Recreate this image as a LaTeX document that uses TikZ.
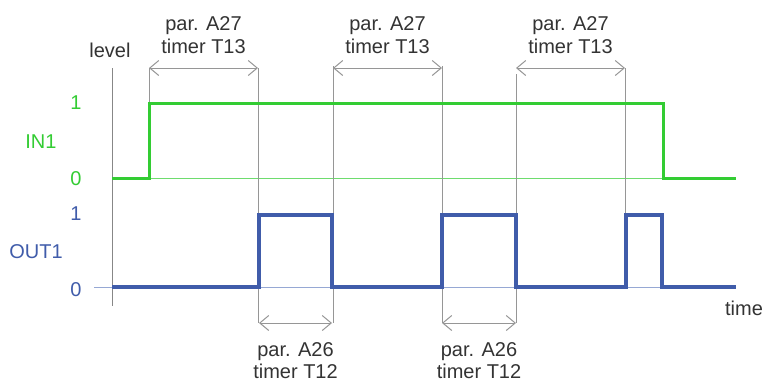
\documentclass[tikz,border=0pt]{standalone}
\usepackage{fontspec}
\setmainfont{Liberation Sans}
\usetikzlibrary{arrows.meta}
\definecolor{sigGreen}{RGB}{51,204,51}
\definecolor{thinGreen}{RGB}{110,220,110}
\definecolor{sigBlue}{RGB}{64,92,170}
\definecolor{thinBlue}{RGB}{150,168,212}
\definecolor{guideGray}{RGB}{150,150,150}
\definecolor{axisGray}{RGB}{135,135,135}
\begin{document}
\begin{tikzpicture}[x=1pt,y=-1pt,
  lbl/.style={inner sep=0pt, font=\fontsize{20}{23}\selectfont, text=black!80, align=center},
  glbl/.style={lbl, text=sigGreen},
  blbl/.style={lbl, text=sigBlue},
  guide/.style={draw=guideGray, line width=1pt},
  dim/.style={draw=guideGray, line width=1pt, {Straight Barb[length=9pt,width=15pt]}-{Straight Barb[length=9pt,width=15pt]}},
  gsig/.style={draw=sigGreen, line width=3pt, line join=miter},
  bsig/.style={draw=sigBlue, line width=3.2pt, line join=miter},
  gthin/.style={draw=thinGreen, line width=0.9pt},
  bthin/.style={draw=thinBlue, line width=1pt}]
\useasboundingbox (0,0) rectangle (766,384);

% labels
\node[lbl] (level) at (110,50) {level};
\node[lbl] (time) at (744,308) {time};
\node[glbl] (g1) at (76,103) {1};
\node[glbl] (in1) at (41,142) {IN1};
\node[glbl] (g0) at (76,179) {0};
\node[blbl] (b1) at (76,214) {1};
\node[blbl] (out1) at (36,252) {OUT1};
\node[blbl] (b0) at (76,290) {0};

\node[lbl] (t1) at (203.5,35) {par. A27\\timer T13};
\node[lbl] (t2) at (387.5,35) {par. A27\\timer T13};
\node[lbl] (t3) at (570.5,35) {par. A27\\timer T13};
\node[lbl, font=\fontsize{20}{22}\selectfont] (b1l) at (295.5,360.5) {par. A26\\timer T12};
\node[lbl, font=\fontsize{20}{22}\selectfont] (b2l) at (479,360.5) {par. A26\\timer T12};

% axis
\coordinate (axT) at (112,68);
\coordinate (axB) at (112,306);
\draw[draw=axisGray, line width=1pt] (axT) -- (axB);

% thin baselines
\coordinate (gz0) at (112,178);
\coordinate (gz1) at (663,178);
\draw[gthin] (gz0) -- (gz1);
\coordinate (bz0) at (94,287);
\coordinate (bz1) at (736,287);
\draw[bthin] (bz0) -- (bz1);

% guide lines
\coordinate (v1t) at (149,68);  \coordinate (v1b) at (149,103);
\coordinate (v2t) at (258,68);  \coordinate (v2b) at (258,323);
\coordinate (v3t) at (333,66);  \coordinate (v3b) at (333,323);
\coordinate (v4t) at (442,66);  \coordinate (v4b) at (442,323);
\coordinate (v5t) at (516,74);  \coordinate (v5b) at (516,323);
\coordinate (v6t) at (625,68);  \coordinate (v6b) at (625,215);
\foreach \i in {1,...,6} \draw[guide] (v\i t) -- (v\i b);

% dimension arrows
\coordinate (a1l) at (149,68); \coordinate (a1r) at (258,68);
\coordinate (a2l) at (333,68); \coordinate (a2r) at (442,68);
\coordinate (a3l) at (516,68); \coordinate (a3r) at (625,68);
\coordinate (d1l) at (259,323); \coordinate (d1r) at (332,323);
\coordinate (d2l) at (442,323); \coordinate (d2r) at (516,323);
\draw[dim] (a1l) -- (a1r);
\draw[dim] (a2l) -- (a2r);
\draw[dim] (a3l) -- (a3r);
\draw[dim] (d1l) -- (d1r);
\draw[dim] (d2l) -- (d2r);

% IN1 signal
\draw[gsig] (112,178) -- (149,178) -- (149,103) -- (663,103) -- (663,178) -- (736,178);

% OUT1 signal
\draw[bsig] (112,287) -- (259,287) -- (259,215) -- (332,215) -- (332,287)
  -- (442,287) -- (442,215) -- (516,215) -- (516,287)
  -- (626,287) -- (626,215) -- (662,215) -- (662,287) -- (736,287);
\end{tikzpicture}
\end{document}
